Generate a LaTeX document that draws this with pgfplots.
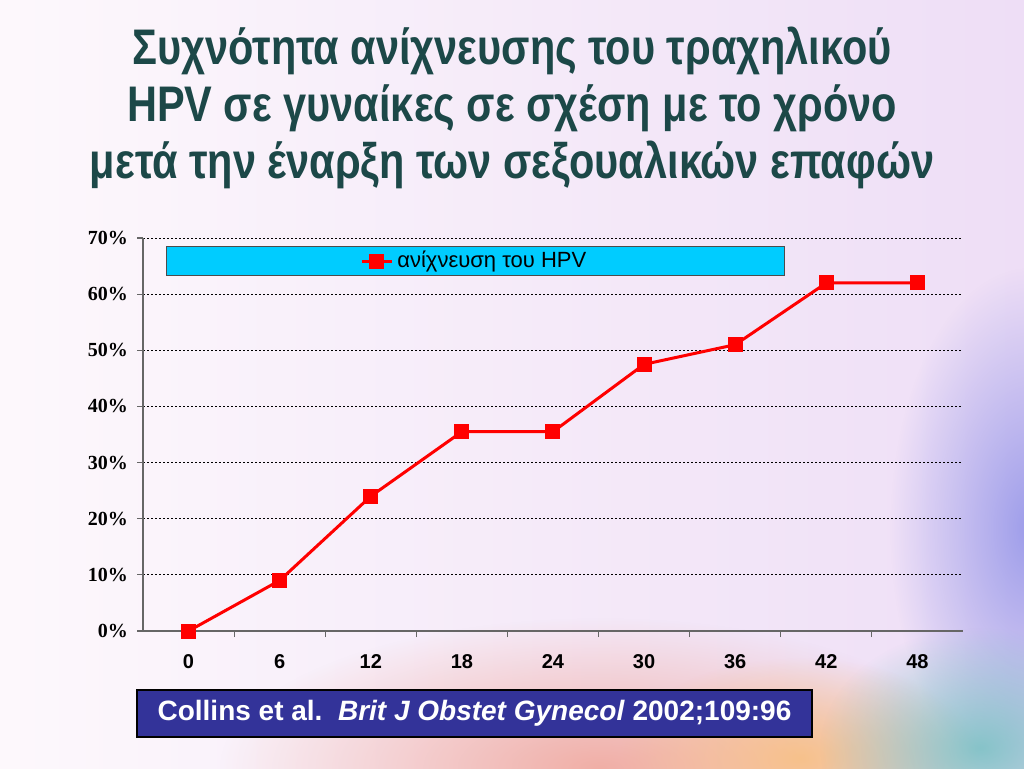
\documentclass[border=0pt]{standalone}
\usepackage{pgfplots}
\pgfplotsset{compat=1.18}
\usetikzlibrary{fadings}
\usepackage{fontspec}
\setmainfont{Liberation Serif}
\setsansfont{Liberation Sans}
\newfontfamily\titlefont[FakeStretch=0.83]{Liberation Sans}
\definecolor{titleteal}{RGB}{28,72,72}
\definecolor{legcyan}{RGB}{0,204,255}
\definecolor{citenavy}{RGB}{51,51,153}
\definecolor{bgleft}{RGB}{253,248,252}
\definecolor{bgright}{RGB}{238,222,246}
\definecolor{bgpeach}{RGB}{240,160,145}
\definecolor{bgorange}{RGB}{250,190,110}
\definecolor{bgblue}{RGB}{130,135,230}
\definecolor{bgteal}{RGB}{110,190,190}
\tikzfading[name=softblob, inner color=transparent!0, outer color=transparent!100]

\begin{document}
\begin{tikzpicture}
  % slide background
  \shade[left color=bgleft, right color=bgright] (0pt,0pt) rectangle (512pt,384pt);
  \begin{scope}
    \clip (0pt,0pt) rectangle (512pt,384pt);
    \fill[bgpeach, opacity=0.8, path fading=softblob] (300pt,0pt) ellipse (190pt and 75pt);
    \fill[bgorange, opacity=0.7, path fading=softblob] (400pt,5pt) ellipse (90pt and 50pt);
    \fill[bgblue, opacity=0.75, path fading=softblob] (515pt,120pt) ellipse (70pt and 130pt);
    \fill[bgteal, opacity=0.8, path fading=softblob] (490pt,10pt) ellipse (80pt and 60pt);
  \end{scope}

  % title
  \node[align=center, text=titleteal, font=\titlefont\bfseries\fontsize{25}{28.5}\selectfont]
    at (256pt,330pt) {Συχνότητα ανίχνευσης του τραχηλικού\\HPV σε γυναίκες σε σχέση με το χρόνο\\μετά την έναρξη των σεξουαλικών επαφών};

  \begin{axis}[
    at={(71.5pt,68.5pt)}, anchor=south west,
    scale only axis,
    width=410pt, height=196.5pt,
    xmin=-3, xmax=51, ymin=0, ymax=70,
    axis x line=bottom, axis y line=left,
    axis line style={-, draw=black!60, line width=0.6pt},
    xtick={0,6,...,48},
    xticklabels={0,6,12,18,24,30,36,42,48},
    minor xtick={3,9,...,45},
    major x tick style={draw=none},
    minor tick length=3pt,
    x tick style={draw=black!60, line width=0.6pt},
    xticklabel style={font=\sffamily\bfseries\fontsize{10}{11}\selectfont, yshift=-5pt},
    ytick={0,10,...,70},
    yticklabels={0\%,10\%,20\%,30\%,40\%,50\%,60\%,70\%},
    yticklabel style={font=\bfseries\fontsize{10}{11}\selectfont, xshift=-1pt},
    y tick style={draw=black!60, line width=0.6pt},
    major tick length=3pt,
    tick align=outside,
    ymajorgrids,
    grid style={black, line width=0.4pt, dash pattern=on 1.2pt off 0.8pt},
    legend style={at={(0.028,0.98)}, anchor=north west, fill=legcyan, draw=black!70,
      inner xsep=97pt, inner ysep=0.5pt,
      font=\sffamily\fontsize{11}{12}\selectfont},
    legend image code/.code={
      \draw[mark repeat=2, mark phase=2, #1] plot coordinates {(0pt,0pt) (7.5pt,0pt) (15pt,0pt)};},
  ]
    \addplot[red, line width=1.5pt, mark=square*, mark size=3pt, mark options={solid}]
      coordinates {(0,0) (6,9) (12,24) (18,35.5) (24,35.5) (30,47.5) (36,51) (42,62) (48,62)};
    \addlegendentry{ανίχνευση του HPV}
  \end{axis}

  % citation box
  \node[fill=citenavy, draw=black, line width=0.8pt, minimum width=337.5pt, minimum height=23.5pt,
        text=white, font=\sffamily\bfseries\fontsize{14}{16}\selectfont]
    at (237.25pt,27.25pt) {Collins et al.\ \ \textit{Brit J Obstet Gynecol} 2002;109:96};
\end{tikzpicture}
\end{document}
